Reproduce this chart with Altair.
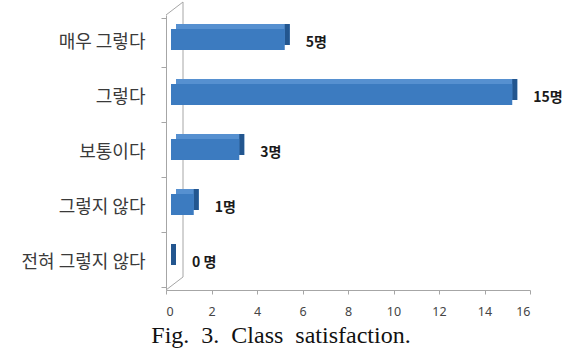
import altair as alt
import pandas as pd

categories = ["매우 그렇다", "그렇다", "보통이다", "그렇지 않다", "전혀 그렇지 않다"]
values = [5, 15, 3, 1, 0]
value_labels = ["5명", "15명", "3명", "1명", "0 명"]
x_ticks = [0, 2, 4, 6, 8, 10, 12, 14, 16]
caption = "Fig.\u00a0 3.\u00a0 Class\u00a0 satisfaction."

df = pd.DataFrame({"cat": categories, "val": values, "lab": value_labels})

KFONT = "Noto Sans CJK KR"
GRAY = "#a6a6a6"

x_enc = alt.X("val:Q", scale=alt.Scale(domain=[0, 16], nice=False),
              axis=alt.Axis(values=x_ticks, title=None, grid=False, domainColor=GRAY,
                            tickColor=GRAY, tickSize=4, labelFontSize=12.5, labelColor="#454545",
                            labelFont="Noto Sans", labelPadding=11))
y_enc = alt.Y("cat:N", sort=categories,
              axis=alt.Axis(title=None, grid=False, domainColor=GRAY, tickColor=GRAY,
                            tickSize=5, tickBand="extent", labelFontSize=18,
                            labelColor="#3a3a3a", labelFont=KFONT, labelPadding=16))

base = alt.Chart(df)

top_face = base.mark_bar(size=21, color="#5690d0", xOffset=10, x2Offset=10, yOffset=-8).encode(
    x=x_enc, x2=alt.datum(0), y=y_enc)
side_face = base.mark_bar(size=21, color="#23568f", xOffset=5, x2Offset=10, yOffset=-8).encode(
    x="val:Q", x2="val:Q", y=alt.Y("cat:N", sort=categories))
front_face = base.mark_bar(size=21, color="#3c7bc0", xOffset=5, x2Offset=5, yOffset=-3).encode(
    x="val:Q", x2=alt.datum(0), y=alt.Y("cat:N", sort=categories))
labels = base.mark_text(align="left", baseline="middle", dx=26, fontSize=14,
                        fontWeight="bold", font=KFONT, color="#1a1a1a").encode(
    x="val:Q", y=alt.Y("cat:N", sort=categories), text="lab:N")

wall_df = pd.DataFrame({"v": [0]})
wall = alt.Chart(wall_df)
back_line = wall.mark_rule(color=GRAY, strokeWidth=1, xOffset=17).encode(
    x=alt.datum(0), y=alt.value(-13), y2=alt.value(262))
bottom_diag = wall.mark_rule(color=GRAY, strokeWidth=1).encode(
    x=alt.value(0), y=alt.value(275), x2=alt.value(17), y2=alt.value(262))
top_diag = wall.mark_rule(color=GRAY, strokeWidth=1).encode(
    x=alt.value(0), y=alt.value(0), x2=alt.value(17), y2=alt.value(-13))

cap = alt.Chart(pd.DataFrame({"t": [caption]})).mark_text(
    align="center", baseline="alphabetic", fontSize=24, font="Liberation Serif", color="#111111"
).encode(text="t:N", x=alt.value(115), y=alt.value(328))

chart = alt.layer(back_line, bottom_diag, top_diag, top_face, side_face, front_face, labels, cap).properties(
    width=364, height=275,
    autosize=alt.AutoSizeParams(type="none"),
    padding={"left": 166, "top": 15, "right": 33, "bottom": 61},
    background="white",
).configure_view(stroke=None)

chart.save("out.html", embed_options={"renderer": "svg", "actions": False})
